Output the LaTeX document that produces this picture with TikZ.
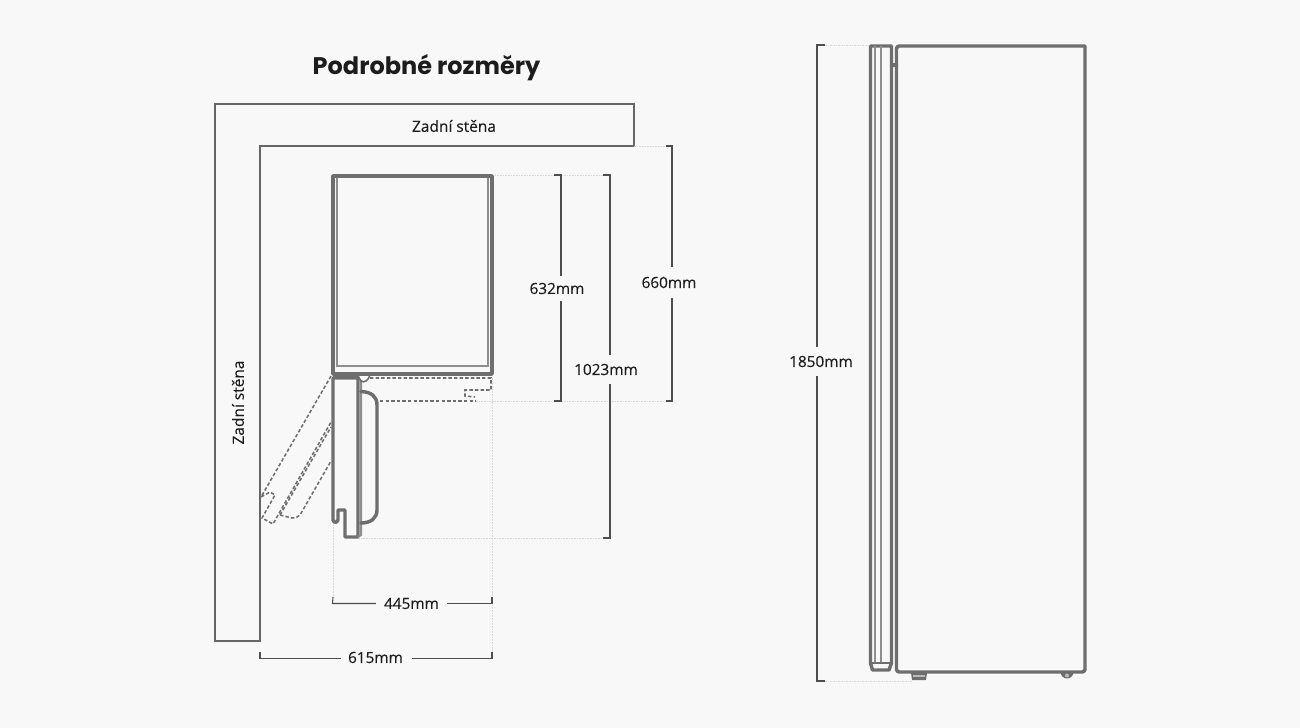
\documentclass[tikz,border=0pt]{standalone}
\usepackage{fontspec}
\setmainfont{Open Sans}
\newfontfamily\popf{Poppins}
\newfontfamily\labf[FakeBold=0.25]{Open Sans}
\usetikzlibrary{calc}
\definecolor{bgc}{HTML}{F8F8F8}
\definecolor{wallc}{HTML}{666666}
\definecolor{dimc}{HTML}{4E4E4E}
\definecolor{fr}{HTML}{6E6E6E}
\definecolor{lt}{HTML}{8E8E8E}
\definecolor{dotc}{HTML}{D6D6D6}
\definecolor{txt}{HTML}{1C1C1C}
\tikzset{
  x=0.75pt,y=-0.75pt,
  wall/.style={draw=wallc,line width=0.95pt},
  thick1/.style={draw=fr,line width=2.6pt,line join=round,line cap=round},
  thin1/.style={draw=lt,line width=1.5pt},
  dsh/.style={draw=fr,line width=1.15pt,dash pattern=on 2.6pt off 1.6pt},
  dotl/.style={draw=dotc,line width=0.6pt,dash pattern=on 1.2pt off 0.8pt},
  dim/.style={draw=dimc,line width=0.8pt},
  lbl/.style={font=\labf\fontsize{11.5pt}{13pt}\selectfont,text=txt,inner sep=0pt},
  wlbl/.style={font=\labf\fontsize{11.6pt}{13pt}\selectfont,text=txt,inner sep=0pt},
}
\begin{document}
\begin{tikzpicture}
\path[use as bounding box,fill=bgc] (0,0) rectangle (1300,728);
% title
\node[text=txt,inner sep=0pt,font=\popf\fontsize{18pt}{20pt}\selectfont\bfseries] (title) at (426.5,68) {Podrobné rozměry};
% wall
\draw[wall] (215,104) -- (634,104) -- (634,146) -- (260,146) -- (260,641) -- (215,641) -- cycle;
\node[wlbl] (wall1) at (454,126) {Zadní stěna};
\node[wlbl,rotate=90] (wall2) at (238,402.5) {Zadní stěna};
% light extension lines
\coordinate (t176) at (492,175); \coordinate (e610t) at (603,175);
\coordinate (t146) at (634,146); \coordinate (e672t) at (666,146);
\coordinate (b401) at (476,401); \coordinate (e672b) at (666,401);
\coordinate (b538) at (358,538); \coordinate (e610b) at (603,538);
\coordinate (l333) at (333,522); \coordinate (d445l) at (333,597);
\coordinate (l492) at (492,378); \coordinate (d615r) at (492,652);
\draw[dotl] (t176) -- (e610t);
\draw[dotl] (t146) -- (e672t);
\draw[dotl] (b401) -- (e672b);
\draw[dotl] (b538) -- (e610b);
\draw[dotl] (l333) -- (d445l);
\draw[dotl] (l492) -- (d615r);
\coordinate (d615l) at (260,641);
% top-view body
\draw[thin1] (337,176) -- (337,366) -- (488,366) -- (488,176);
\draw[thick1] (333,176) rectangle (492,374);
% door
\draw[thick1] (333,378) -- (358,378) -- (358,537) -- (345,537) -- (345,510) -- (338,510) -- (338,520) .. controls (337,523) and (334,523) .. (333,520) -- cycle;
\draw[thin1] (361,380) -- (361,535) -- (358,537);
\draw[thick1] (361,391.5) .. controls (371,392) and (377,396) .. (377,405) -- (377,510) .. controls (377,518) and (371,523) .. (361,523);
% hinge
\draw[draw=fr,line width=1.2pt] (333,376) -- (358,376) -- (361,381) .. controls (364,383) and (368,381) .. (370,375);
% open door, dashed
\draw[dsh] (331,376) -- (261,497) -- (270,492) -- (275,495) -- (262,518) -- (273,524) -- (331,422);
\draw[dsh] (280,515) -- (331,427);
\draw[dsh] (280,515) -- (292,518) .. controls (296,518) and (298,517) .. (300,515) -- (331,461);
\draw[dsh] (370,378) -- (491,378) -- (491,390) -- (465,390) -- (465,396) -- (475,397);
\draw[dsh] (380,401) -- (476,401);
% dimension labels
\node[lbl] (n632) at (557,288.5) {632mm};
\node[lbl] (n660) at (669,282.5) {660mm};
\node[lbl] (n1023) at (606,369.5) {1023mm};
\node[lbl] (n445) at (411.5,603.5) {445mm};
\node[lbl] (n615) at (375.5,657.5) {615mm};
\node[lbl] (n1850) at (821,361.5) {1850mm};
% vertical dimensions
\coordinate (a632t) at (554,175); \coordinate (a632c) at (561,175); \coordinate (a632b) at (561,401); \coordinate (a632e) at (554,401);
\draw[dim] (a632t) -- (a632c) -- ($(a632c |- n632.north)+(0,-7)$);
\draw[dim] ($(a632b |- n632.south)+(0,7)$) -- (a632b) -- (a632e);
\coordinate (a660t) at (666,146); \coordinate (a660c) at (672,146); \coordinate (a660b) at (672,401); \coordinate (a660e) at (666,401);
\draw[dim] (a660t) -- (a660c) -- ($(a660c |- n660.north)+(0,-10)$);
\draw[dim] ($(a660b |- n660.south)+(0,10)$) -- (a660b) -- (a660e);
\coordinate (a1023t) at (603,175); \coordinate (a1023c) at (610,175); \coordinate (a1023b) at (610,538); \coordinate (a1023e) at (603,538);
\draw[dim] (a1023t) -- (a1023c) -- ($(a1023c |- n1023.north)+(0,-9)$);
\draw[dim] ($(a1023b |- n1023.south)+(0,9)$) -- (a1023b) -- (a1023e);
\coordinate (a1850t) at (825,45); \coordinate (a1850c) at (817,45); \coordinate (a1850b) at (817,681); \coordinate (a1850e) at (825,681);
\draw[dim] (a1850t) -- (a1850c) -- ($(a1850c |- n1850.north)+(0,-9)$);
\draw[dim] ($(a1850b |- n1850.south)+(0,9)$) -- (a1850b) -- (a1850e);
% horizontal dimensions
\coordinate (h445l) at (332.5,603.5); \coordinate (h445r) at (492,603.5);
\draw[dim] (d445l) -- (h445l) -- ($(n445.west |- h445l)+(-8,0)$);
\draw[dim] ($(n445.east |- h445r)+(8,0)$) -- (h445r) -- (492,597);
\coordinate (h615l) at (260,658.5); \coordinate (h615r) at (492,658.5);
\draw[dim] (d615l) ++(0,11) -- (h615l) -- ($(n615.west |- h615l)+(-7,0)$);
\draw[dim] ($(n615.east |- h615r)+(9,0)$) -- (h615r) -- (d615r);
% side view dotted
\coordinate (s1) at (868,45); \coordinate (s2) at (912,681);
\draw[dotl] (a1850t) -- (s1);
\draw[dotl] (a1850e) -- (s2);
% side view door
\draw[thick1] (870.5,663) -- (870.5,46) -- (891.5,46) -- (891.5,663) -- (889,670) -- (872.5,670) -- cycle;
\draw[thin1] (875,46) -- (875,663);
\draw[thin1] (880.5,46) -- (880.5,663);
\draw[thick1,line width=1.5pt] (870,663) -- (891,663);
\draw[thick1] (891.5,65) -- (896.5,65);
% side view body
\draw[thick1] (896.5,46) -- (1085,46) -- (1085,670) [rounded corners=2pt] -- (1085,672) -- (896.5,672) -- cycle;
% feet
\fill[fr] (911,673) -- (927,673) -- (926,680) -- (912,680) -- cycle;
\fill[lt!60] (913,675) rectangle (925,677);
\fill[fr] (1060.5,672) arc[start angle=180,end angle=0,radius=6.5] -- cycle;
\fill[lt!60] (1067,675.5) circle[radius=2];
\end{tikzpicture}
\end{document}
